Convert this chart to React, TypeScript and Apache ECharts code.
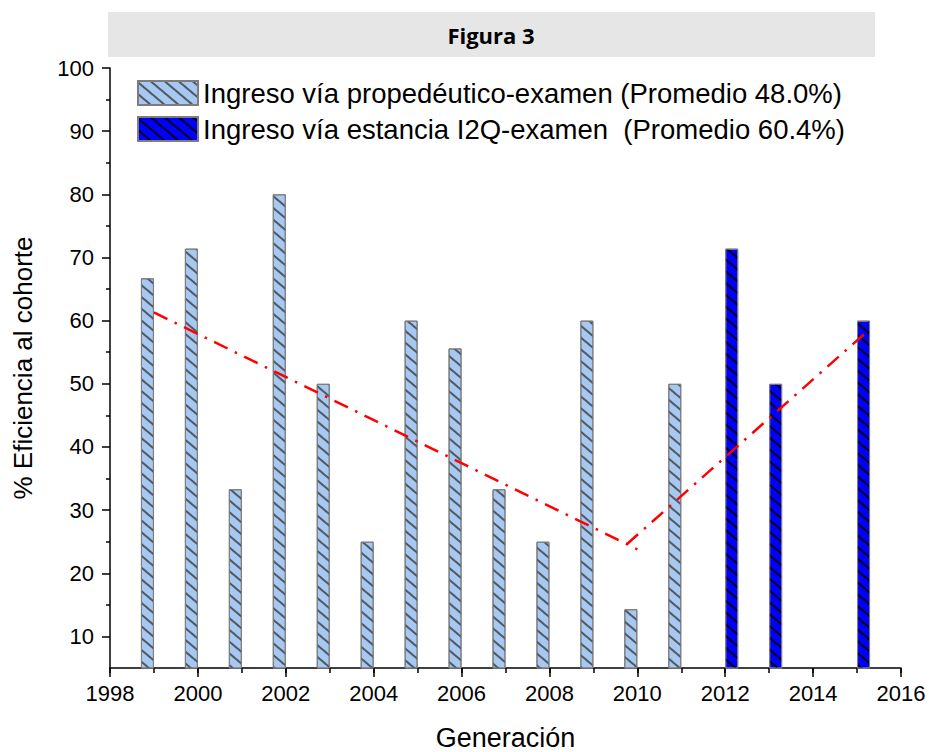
import React, { useEffect, useRef } from "react";
import * as echarts from "echarts";

const lightLabel = "Ingreso vía propedéutico-examen (Promedio 48.0%)";
const darkLabel = "Ingreso vía estancia I2Q-examen  (Promedio 60.4%)";

const lightYears = [1999, 2000, 2001, 2002, 2003, 2004, 2005, 2006, 2007, 2008, 2009, 2010, 2011];
const lightValues = [66.7, 71.4, 33.3, 80, 50, 25, 60, 55.6, 33.3, 25, 60, 14.3, 50];

const darkYears = [2012, 2013, 2015];
const darkValues = [71.4, 50, 60];

const trend1X = [1999, 2010];
const trend1Y = [61.3, 23.8];
const trend2X = [2009.76, 2015.25];
const trend2Y = [24.6, 58.4];

const yMajorTicks = [10, 20, 30, 40, 50, 60, 70, 80, 90, 100];
const yMinorTicks = [15, 25, 35, 45, 55, 65, 75, 85, 95];

const FONT = "Liberation Sans";

export default function App() {
  const ref = useRef<HTMLDivElement>(null);
  useEffect(() => {
    if (!ref.current) return;
    const chart = echarts.init(ref.current, null, { renderer: "svg" });
    const zip = (xs: number[], ys: number[]) => xs.map((x, i) => [x, ys[i]]);
    chart.setOption({
      animation: false,
      backgroundColor: "#ffffff",
      textStyle: { fontFamily: FONT },
      graphic: [
        {
          type: "rect",
          shape: { x: 108, y: 12, width: 767, height: 45 },
          style: { fill: "#e6e6e6" },
          silent: true,
        },
        {
          type: "text",
          x: 491,
          y: 35,
          style: {
            text: "Figura 3",
            fill: "#000",
            font: "bold 22px 'Open Sans'",
            textAlign: "center",
            textVerticalAlign: "middle",
          },
        },
      ],
      grid: {
        left: 110,
        right: 28,
        top: 68,
        bottom: 84,
        containLabel: false,
        outerBoundsMode: "none",
      },
      legend: {
        data: [lightLabel, darkLabel],
        orient: "vertical",
        left: 132,
        top: 74,
        icon: "rect",
        itemWidth: 60,
        itemHeight: 24,
        itemGap: 8,
        textStyle: { fontFamily: FONT, fontSize: 27.5, color: "#000" },
        selectedMode: false,
      },
      xAxis: [
        {
          type: "value",
          min: 1998,
          max: 2016,
          interval: 2,
          splitLine: { show: false },
          axisLine: { lineStyle: { color: "#000", width: 1.5 } },
          axisTick: { length: 9, lineStyle: { color: "#000", width: 1.5 } },
          axisLabel: {
            fontFamily: FONT,
            fontSize: 22,
            color: "#000",
            margin: 14,
            formatter: (v: number) => String(v),
          },
          name: "Generación",
          nameLocation: "middle",
          nameGap: 56,
          nameTextStyle: { fontFamily: FONT, fontSize: 27, color: "#000" },
        },
        {
          type: "value",
          min: 1998,
          max: 2016,
          interval: 1,
          position: "bottom",
          splitLine: { show: false },
          axisLine: { show: false },
          axisTick: { length: 5, lineStyle: { color: "#000", width: 1.5 } },
          axisLabel: { show: false },
        },
      ],
      yAxis: [
        {
          type: "value",
          min: 5,
          max: 100,
          splitLine: { show: false },
          axisLine: { show: true, lineStyle: { color: "#000", width: 1.5 } },
          axisTick: {
            show: true,
            length: 8,
            customValues: yMajorTicks,
            lineStyle: { color: "#000", width: 1.5 },
          },
          axisLabel: {
            fontFamily: FONT,
            fontSize: 22,
            color: "#000",
            margin: 16,
            customValues: yMajorTicks,
          },
          name: "% Eficiencia al cohorte",
          nameLocation: "middle",
          nameGap: 74,
          nameTextStyle: { fontFamily: FONT, fontSize: 26, color: "#000" },
        },
        {
          type: "value",
          min: 5,
          max: 100,
          position: "left",
          splitLine: { show: false },
          axisLine: { show: false },
          axisTick: {
            show: true,
            length: 4,
            customValues: yMinorTicks,
            lineStyle: { color: "#000", width: 1.5 },
          },
          axisLabel: { show: false },
        },
      ],
      series: [
        {
          name: lightLabel,
          type: "bar",
          xAxisIndex: 0,
          yAxisIndex: 0,
          barWidth: 13,
          barGap: "0%",
          data: zip(lightYears, lightValues),
          itemStyle: {
            color: "#a7c8f0",
            borderColor: "#7d7d7d",
            borderWidth: 1,
            decal: {
              symbol: "rect",
              symbolSize: 1,
              dashArrayX: [1, 0],
              dashArrayY: [1.2, 6.5],
              rotation: 0.7,
              color: "rgba(50,50,50,0.75)",
            },
          },
        },
        {
          name: darkLabel,
          type: "bar",
          xAxisIndex: 0,
          yAxisIndex: 0,
          barWidth: 13,
          barGap: "0%",
          data: zip(darkYears, darkValues),
          itemStyle: {
            color: "#0000ff",
            borderColor: "#7d7d7d",
            borderWidth: 1,
            decal: {
              symbol: "rect",
              symbolSize: 1,
              dashArrayX: [1, 0],
              dashArrayY: [1.2, 6.5],
              rotation: 0.7,
              color: "rgba(0,0,0,0.9)",
            },
          },
        },
        {
          name: "trend1",
          type: "line",
          xAxisIndex: 0,
          yAxisIndex: 0,
          symbol: "none",
          data: zip(trend1X, trend1Y),
          lineStyle: { color: "#ff0000", width: 2.5, type: [15, 8, 2.5, 8] },
          z: 5,
        },
        {
          name: "trend2",
          type: "line",
          xAxisIndex: 0,
          yAxisIndex: 0,
          symbol: "none",
          data: zip(trend2X, trend2Y),
          lineStyle: { color: "#ff0000", width: 2.5, type: [15, 8, 2.5, 8] },
          z: 5,
        },
      ],
    });
    return () => chart.dispose();
  }, []);
  return (
    <div
      ref={ref}
      style={{ position: "fixed", left: 0, top: 0, width: 929, height: 752, background: "#fff" }}
    />
  );
}
